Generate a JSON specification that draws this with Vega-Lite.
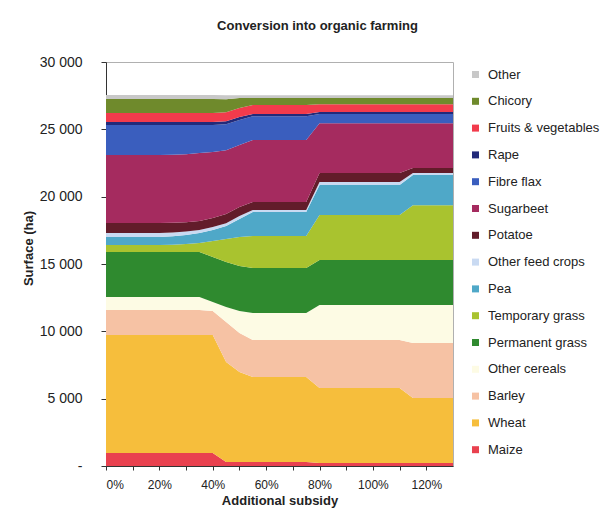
{
  "$schema": "https://vega.github.io/schema/vega-lite/v6.json",
  "width": 347,
  "height": 404,
  "autosize": {"type": "none"},
  "padding": {"left": 106, "top": 62, "right": 158, "bottom": 52},
  "background": "white",
  "title": {"text": "Conversion into organic farming", "fontSize": 13, "font": "Liberation Sans", "fontWeight": "bold", "color": "#222222", "anchor": "middle", "dx": 38, "offset": 22},
  "data": {"values": [
    {"x":0,"Maize":970,"Wheat":8760,"Barley":1860,"Other cereals":965,"Permanent grass":3340,"Temporary grass":520,"Pea":590,"Other feed crops":300,"Potatoe":740,"Sugarbeet":5050,"Fibre flax":2230,"Rape":220,"Fruits & vegetables":670,"Chicory":1040,"Other":300},
    {"x":5,"Maize":970,"Wheat":8760,"Barley":1860,"Other cereals":965,"Permanent grass":3340,"Temporary grass":520,"Pea":590,"Other feed crops":300,"Potatoe":740,"Sugarbeet":5050,"Fibre flax":2230,"Rape":220,"Fruits & vegetables":670,"Chicory":1040,"Other":300},
    {"x":10,"Maize":970,"Wheat":8760,"Barley":1860,"Other cereals":965,"Permanent grass":3340,"Temporary grass":520,"Pea":590,"Other feed crops":300,"Potatoe":740,"Sugarbeet":5050,"Fibre flax":2230,"Rape":220,"Fruits & vegetables":670,"Chicory":1040,"Other":300},
    {"x":15,"Maize":970,"Wheat":8760,"Barley":1860,"Other cereals":965,"Permanent grass":3340,"Temporary grass":520,"Pea":590,"Other feed crops":300,"Potatoe":740,"Sugarbeet":5050,"Fibre flax":2230,"Rape":220,"Fruits & vegetables":670,"Chicory":1040,"Other":300},
    {"x":20,"Maize":970,"Wheat":8760,"Barley":1860,"Other cereals":965,"Permanent grass":3340,"Temporary grass":520,"Pea":590,"Other feed crops":300,"Potatoe":740,"Sugarbeet":5050,"Fibre flax":2230,"Rape":220,"Fruits & vegetables":670,"Chicory":1040,"Other":300},
    {"x":25,"Maize":970,"Wheat":8760,"Barley":1860,"Other cereals":965,"Permanent grass":3340,"Temporary grass":540,"Pea":620,"Other feed crops":290,"Potatoe":720,"Sugarbeet":5050,"Fibre flax":2210,"Rape":220,"Fruits & vegetables":670,"Chicory":1040,"Other":300},
    {"x":30,"Maize":970,"Wheat":8760,"Barley":1860,"Other cereals":965,"Permanent grass":3340,"Temporary grass":590,"Pea":660,"Other feed crops":260,"Potatoe":700,"Sugarbeet":5050,"Fibre flax":2170,"Rape":220,"Fruits & vegetables":670,"Chicory":1040,"Other":300},
    {"x":35,"Maize":970,"Wheat":8760,"Barley":1860,"Other cereals":965,"Permanent grass":3340,"Temporary grass":670,"Pea":740,"Other feed crops":220,"Potatoe":670,"Sugarbeet":5050,"Fibre flax":2080,"Rape":220,"Fruits & vegetables":670,"Chicory":1040,"Other":300},
    {"x":40,"Maize":970,"Wheat":8760,"Barley":1780,"Other cereals":670,"Permanent grass":3340,"Temporary grass":1190,"Pea":820,"Other feed crops":220,"Potatoe":670,"Sugarbeet":4900,"Fibre flax":2000,"Rape":220,"Fruits & vegetables":670,"Chicory":1040,"Other":300},
    {"x":45,"Maize":300,"Wheat":7420,"Barley":2970,"Other cereals":1110,"Permanent grass":3340,"Temporary grass":1710,"Pea":965,"Other feed crops":220,"Potatoe":670,"Sugarbeet":4750,"Fibre flax":1930,"Rape":220,"Fruits & vegetables":670,"Chicory":965,"Other":300},
    {"x":50,"Maize":300,"Wheat":6680,"Barley":2900,"Other cereals":1630,"Permanent grass":3340,"Temporary grass":2150,"Pea":1340,"Other feed crops":220,"Potatoe":670,"Sugarbeet":4600,"Fibre flax":1860,"Rape":220,"Fruits & vegetables":670,"Chicory":740,"Other":220},
    {"x":55,"Maize":300,"Wheat":6310,"Barley":2750,"Other cereals":2000,"Permanent grass":3340,"Temporary grass":2380,"Pea":1780,"Other feed crops":150,"Potatoe":590,"Sugarbeet":4600,"Fibre flax":1780,"Rape":150,"Fruits & vegetables":670,"Chicory":520,"Other":220},
    {"x":60,"Maize":300,"Wheat":6310,"Barley":2750,"Other cereals":2000,"Permanent grass":3340,"Temporary grass":2380,"Pea":1780,"Other feed crops":150,"Potatoe":590,"Sugarbeet":4600,"Fibre flax":1780,"Rape":150,"Fruits & vegetables":670,"Chicory":520,"Other":220},
    {"x":65,"Maize":300,"Wheat":6310,"Barley":2750,"Other cereals":2000,"Permanent grass":3340,"Temporary grass":2380,"Pea":1780,"Other feed crops":150,"Potatoe":590,"Sugarbeet":4600,"Fibre flax":1780,"Rape":150,"Fruits & vegetables":670,"Chicory":520,"Other":220},
    {"x":70,"Maize":300,"Wheat":6310,"Barley":2750,"Other cereals":2000,"Permanent grass":3340,"Temporary grass":2380,"Pea":1780,"Other feed crops":150,"Potatoe":590,"Sugarbeet":4600,"Fibre flax":1780,"Rape":150,"Fruits & vegetables":670,"Chicory":520,"Other":220},
    {"x":75,"Maize":300,"Wheat":6310,"Barley":2750,"Other cereals":2000,"Permanent grass":3340,"Temporary grass":2380,"Pea":1780,"Other feed crops":150,"Potatoe":590,"Sugarbeet":4600,"Fibre flax":1780,"Rape":150,"Fruits & vegetables":670,"Chicory":520,"Other":220},
    {"x":80,"Maize":220,"Wheat":5570,"Barley":3560,"Other cereals":2600,"Permanent grass":3340,"Temporary grass":3340,"Pea":2230,"Other feed crops":220,"Potatoe":670,"Sugarbeet":3710,"Fibre flax":670,"Rape":150,"Fruits & vegetables":590,"Chicory":450,"Other":220},
    {"x":85,"Maize":220,"Wheat":5570,"Barley":3560,"Other cereals":2600,"Permanent grass":3340,"Temporary grass":3340,"Pea":2230,"Other feed crops":220,"Potatoe":670,"Sugarbeet":3710,"Fibre flax":670,"Rape":150,"Fruits & vegetables":590,"Chicory":450,"Other":220},
    {"x":90,"Maize":220,"Wheat":5570,"Barley":3560,"Other cereals":2600,"Permanent grass":3340,"Temporary grass":3340,"Pea":2230,"Other feed crops":220,"Potatoe":670,"Sugarbeet":3710,"Fibre flax":670,"Rape":150,"Fruits & vegetables":590,"Chicory":450,"Other":220},
    {"x":95,"Maize":220,"Wheat":5570,"Barley":3560,"Other cereals":2600,"Permanent grass":3340,"Temporary grass":3340,"Pea":2230,"Other feed crops":220,"Potatoe":670,"Sugarbeet":3710,"Fibre flax":670,"Rape":150,"Fruits & vegetables":590,"Chicory":450,"Other":220},
    {"x":100,"Maize":220,"Wheat":5570,"Barley":3560,"Other cereals":2600,"Permanent grass":3340,"Temporary grass":3340,"Pea":2230,"Other feed crops":220,"Potatoe":670,"Sugarbeet":3710,"Fibre flax":670,"Rape":150,"Fruits & vegetables":590,"Chicory":450,"Other":220},
    {"x":105,"Maize":220,"Wheat":5570,"Barley":3560,"Other cereals":2600,"Permanent grass":3340,"Temporary grass":3340,"Pea":2230,"Other feed crops":220,"Potatoe":670,"Sugarbeet":3710,"Fibre flax":670,"Rape":150,"Fruits & vegetables":590,"Chicory":450,"Other":220},
    {"x":110,"Maize":220,"Wheat":5570,"Barley":3560,"Other cereals":2600,"Permanent grass":3340,"Temporary grass":3340,"Pea":2230,"Other feed crops":220,"Potatoe":670,"Sugarbeet":3710,"Fibre flax":670,"Rape":150,"Fruits & vegetables":590,"Chicory":450,"Other":220},
    {"x":115,"Maize":220,"Wheat":4830,"Barley":4080,"Other cereals":2820,"Permanent grass":3340,"Temporary grass":4080,"Pea":2230,"Other feed crops":150,"Potatoe":370,"Sugarbeet":3340,"Fibre flax":670,"Rape":150,"Fruits & vegetables":590,"Chicory":450,"Other":220},
    {"x":120,"Maize":220,"Wheat":4830,"Barley":4080,"Other cereals":2820,"Permanent grass":3340,"Temporary grass":4080,"Pea":2230,"Other feed crops":150,"Potatoe":370,"Sugarbeet":3340,"Fibre flax":670,"Rape":150,"Fruits & vegetables":590,"Chicory":450,"Other":220},
    {"x":125,"Maize":220,"Wheat":4830,"Barley":4080,"Other cereals":2820,"Permanent grass":3340,"Temporary grass":4080,"Pea":2230,"Other feed crops":150,"Potatoe":370,"Sugarbeet":3340,"Fibre flax":670,"Rape":150,"Fruits & vegetables":590,"Chicory":450,"Other":220},
    {"x":130,"Maize":220,"Wheat":4830,"Barley":4080,"Other cereals":2820,"Permanent grass":3340,"Temporary grass":4080,"Pea":2230,"Other feed crops":150,"Potatoe":370,"Sugarbeet":3340,"Fibre flax":670,"Rape":150,"Fruits & vegetables":590,"Chicory":450,"Other":220}
  ]},
  "transform": [
    {"fold": ["Maize","Wheat","Barley","Other cereals","Permanent grass","Temporary grass","Pea","Other feed crops","Potatoe","Sugarbeet","Fibre flax","Rape","Fruits & vegetables","Chicory","Other"], "as": ["crop","ha"]},
    {"calculate": "indexof(['Maize','Wheat','Barley','Other cereals','Permanent grass','Temporary grass','Pea','Other feed crops','Potatoe','Sugarbeet','Fibre flax','Rape','Fruits & vegetables','Chicory','Other'], datum.crop)", "as": "stackOrder"}
  ],
  "mark": {"type": "area", "opacity": 1, "interpolate": "linear"},
  "encoding": {
    "x": {"field": "x", "type": "quantitative",
      "scale": {"domain": [0, 130], "nice": false, "zero": false},
      "axis": {"title": "Additional subsidy", "values": [0,10,20,30,40,50,60,70,80,90,100,110,120],
        "labelExpr": "datum.value % 20 == 0 ? datum.value + '%' : ''",
        "grid": false, "tickSize": 4, "labelPadding": 9, "labelFontSize": 12, "titleFontSize": 13, "titlePadding": 4}},
    "y": {"field": "ha", "type": "quantitative", "stack": "zero",
      "scale": {"domain": [0, 30000], "nice": false},
      "axis": {"title": "Surface (ha)", "values": [0,5000,10000,15000,20000,25000,30000],
        "labelExpr": "datum.value == 0 ? '-\u00a0\u00a0\u00a0\u00a0\u00a0' : replace(format(datum.value, ','), ',', ' ')",
        "grid": false, "tickSize": 5, "labelPadding": 19, "labelFontSize": 14, "titleFontSize": 13, "titlePadding": 4, "titleY": 186}},
    "color": {"field": "crop", "type": "nominal",
      "scale": {
        "domain": ["Other","Chicory","Fruits & vegetables","Rape","Fibre flax","Sugarbeet","Potatoe","Other feed crops","Pea","Temporary grass","Permanent grass","Other cereals","Barley","Wheat","Maize"],
        "range": ["#C8C8C8","#6F8A2C","#F23B4C","#222A7A","#3A5EBE","#A52B5F","#621C2A","#C9DAF2","#4FA8C8","#A9C32F","#2F8A2F","#FDFBE4","#F6C2A4","#F6BE3C","#E9414F"]},
      "legend": {"title": null, "orient": "none", "legendX": 363, "legendY": 6, "symbolType": "square", "symbolSize": 49, "symbolStrokeWidth": 0, "labelFontSize": 13, "rowPadding": 12.8, "labelOffset": 6, "padding": 0}},
    "order": {"field": "stackOrder", "type": "quantitative"}
  },
  "config": {
    "font": "Liberation Sans",
    "view": {"stroke": "#B0B0B0", "strokeWidth": 1},
    "axis": {"domainColor": "#333333", "tickColor": "#333333", "labelColor": "#222222", "titleColor": "#222222", "labelFont": "Liberation Sans", "titleFont": "Liberation Sans", "titleFontWeight": "bold"},
    "legend": {"labelFont": "Liberation Sans", "labelColor": "#222222"}
  }
}
